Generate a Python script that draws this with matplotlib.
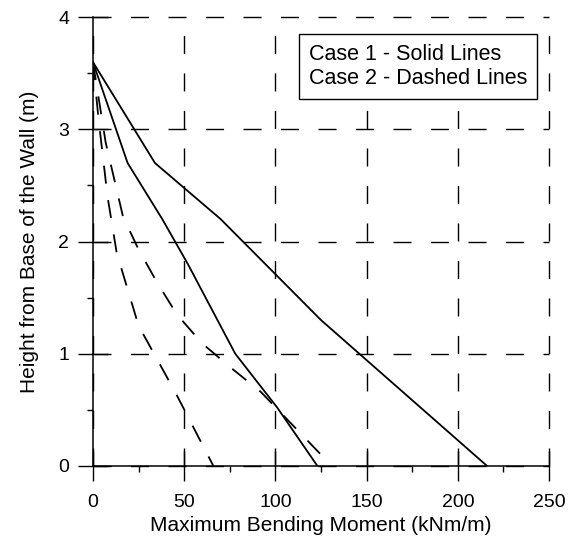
import matplotlib
matplotlib.use("Agg")
import matplotlib.pyplot as plt
from matplotlib.ticker import MultipleLocator

# Case 1 (solid lines)
case1_outer_x = [0, 34, 70, 125, 216]
case1_outer_y = [3.6, 2.7, 2.2, 1.3, 0]
case1_inner_x = [0, 19, 38, 52, 78, 101, 123]
case1_inner_y = [3.6, 2.7, 2.2, 1.8, 1.0, 0.52, 0]

# Case 2 (dashed lines)
case2_inner_x = [0, 3, 8, 13, 25, 45, 66]
case2_inner_y = [3.6, 3.1, 2.4, 1.9, 1.25, 0.66, 0]
case2_outer_x = [0, 7, 16.5, 25, 35, 46, 60, 76, 92, 125]
case2_outer_y = [3.6, 2.88, 2.22, 1.93, 1.64, 1.35, 1.09, 0.87, 0.66, 0.1]

x_ticks = [0, 50, 100, 150, 200, 250]
y_ticks = [0, 1, 2, 3, 4]
legend_text = "Case 1 - Solid Lines\nCase 2 - Dashed Lines"

plt.rcParams["font.family"] = ["Liberation Sans", "DejaVu Sans"]
plt.rcParams["lines.scale_dashes"] = False

fig = plt.figure(figsize=(5.81, 5.38), dpi=100)
ax = fig.add_axes([0.160, 0.134, 0.785, 0.834])

dash = (0, (13, 12))
ax.plot(case1_outer_x, case1_outer_y, color="black", lw=1.3)
ax.plot(case1_inner_x, case1_inner_y, color="black", lw=1.3)
ax.plot(case2_inner_x, case2_inner_y, color="black", lw=1.3, linestyle=dash)
ax.plot(case2_outer_x, case2_outer_y, color="black", lw=1.3, linestyle=dash)

ax.set_xlim(0, 250)
ax.set_ylim(0, 4)
ax.set_xticks(x_ticks)
ax.set_yticks(y_ticks)
ax.xaxis.set_minor_locator(MultipleLocator(25))
ax.yaxis.set_minor_locator(MultipleLocator(0.5))

ax.spines["top"].set_visible(False)
ax.spines["right"].set_visible(False)
ax.spines["left"].set_linewidth(1.1)
ax.spines["bottom"].set_linewidth(1.1)

ax.tick_params(which="major", direction="inout", length=22, width=1.0,
               labelsize=14)
ax.tick_params(axis="x", which="major", pad=9)
ax.tick_params(axis="y", which="major", pad=6)
ax.tick_params(which="minor", direction="out", length=4, width=1.0)

ax.grid(True, which="major", color="black", lw=1.0, linestyle=(0, (13, 14)))
for line in ax.get_xgridlines() + ax.get_ygridlines():
    line.set_clip_on(False)

ax.set_xlabel("Maximum Bending Moment (kNm/m)", fontsize=15, labelpad=4)
ax.set_ylabel("Height from Base of the Wall (m)", fontsize=15, labelpad=14)

ax.text(0.474, 0.94, legend_text, transform=ax.transAxes, fontsize=15.5,
        va="top", ha="left", linespacing=1.2,
        bbox=dict(boxstyle="square,pad=0.45", facecolor="white",
                  edgecolor="black", lw=1.0), zorder=5)

fig.savefig("out.png", dpi=100)
